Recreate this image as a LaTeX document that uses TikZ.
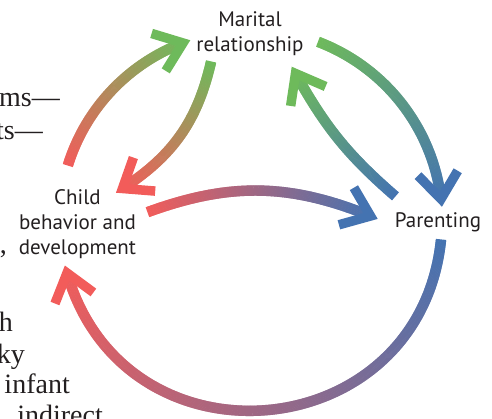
\documentclass[tikz,border=0pt]{standalone}
\usepackage{fontspec}
\setmainfont{PT Sans}
\newfontfamily\bodyserif{Liberation Serif}
\usetikzlibrary{decorations.markings}
\definecolor{fgred}{HTML}{F25C5A}
\definecolor{fggreen}{HTML}{6EBA5B}
\definecolor{fgblue}{HTML}{4473B1}
\definecolor{fgink}{HTML}{231F20}

\tikzset{
  factor/.style={align=center,inner sep=0pt,text=fgink,
    font=\fontsize{21}{25}\selectfont},
  bodytext/.style={anchor=base east,inner sep=0pt,text=fgink,
    font=\bodyserif\fontsize{28}{31}\selectfont},
  % colour runs from #1 at the tail to #2 at the chevron head
  shade flow/.style 2 args={
    postaction={decorate,decoration={markings,
      mark=between positions 0 and 1 step 0.7pt with {%
        \pgfmathsetmacro\flowpos{\pgfkeysvalueof{/pgf/decoration/mark info/distance from start}}%
        \pgfmathsetmacro\flowlen{\pgfdecoratedpathlength}%
        \pgfmathsetmacro\flowmix{100*(1-\flowpos/\flowlen)}%
        \pgfmathsetmacro\flowstop{\flowlen-5}%
        \ifdim\flowpos pt<\flowstop pt
          \fill[#1!\flowmix!#2] (-0.6pt,-5.2pt) rectangle (0.6pt,5.2pt);
        \fi}}},
    postaction={decorate,decoration={markings,
      mark=at position 1 with {%
        \draw[#2,line width=9.5pt,line join=miter,line cap=butt]
          (-26pt,20pt) -- (0pt,0pt) -- (-26pt,-20pt);}}}},
}

\begin{document}
\begin{tikzpicture}[x=1pt,y=1pt]
  \useasboundingbox (0,0) rectangle (492,419);

  % running text of the page beside the figure
  \node[bodytext] (ems) at (60,312) {ems—};
  \node[bodytext] (ts) at (43,279) {ts—};
  \node[bodytext] (comma) at (7,165) {,};
  \node[bodytext] (h) at (13,87) {h};
  \node[bodytext] (ky) at (25,55) {ky};
  \node[bodytext] (infant) at (70,25) {infant};
  \node[bodytext] (indirect) at (103,-6) {indirect};

  % the three factors (base = last line)
  \node[factor,anchor=base] (marital) at (250,367) {Marital\\relationship};
  \node[factor,anchor=base] (child) at (77.5,164) {Child\\behavior and\\development};
  \node[factor,anchor=base] (parenting) at (438,191) {Parenting};

  % outer ring
  \path[shade flow={fgred}{fggreen}] ([shift={(-9.5,90)}]child.base)
    to[bend left=26,looseness=0.9] ([shift={(-67,9)}]marital.base);
  \path[shade flow={fggreen}{fgblue}] ([shift={(68.5,10)}]marital.base)
    to[bend left=31,looseness=0.92] ([shift={(3,29)}]parenting.base);
  \path[shade flow={fgblue}{fgred}] ([shift={(3,-12)}]parenting.base)
    to[bend left=79,looseness=1.43] ([shift={(-10.5,-18)}]child.base);

  % inner arrows
  \path[shade flow={fggreen}{fgred}] ([shift={(-39,-10)}]marital.base)
    to[bend left=22] ([shift={(45,66.5)}]child.base);
  \path[shade flow={fgblue}{fggreen}] ([shift={(-43,32)}]parenting.base)
    to[bend left=10] ([shift={(45.5,-21.5)}]marital.base);
  \path[shade flow={fgred}{fgblue}] ([shift={(70.5,43)}]child.base)
    to[bend left=21] ([shift={(-67.5,12)}]parenting.base);
\end{tikzpicture}
\end{document}
